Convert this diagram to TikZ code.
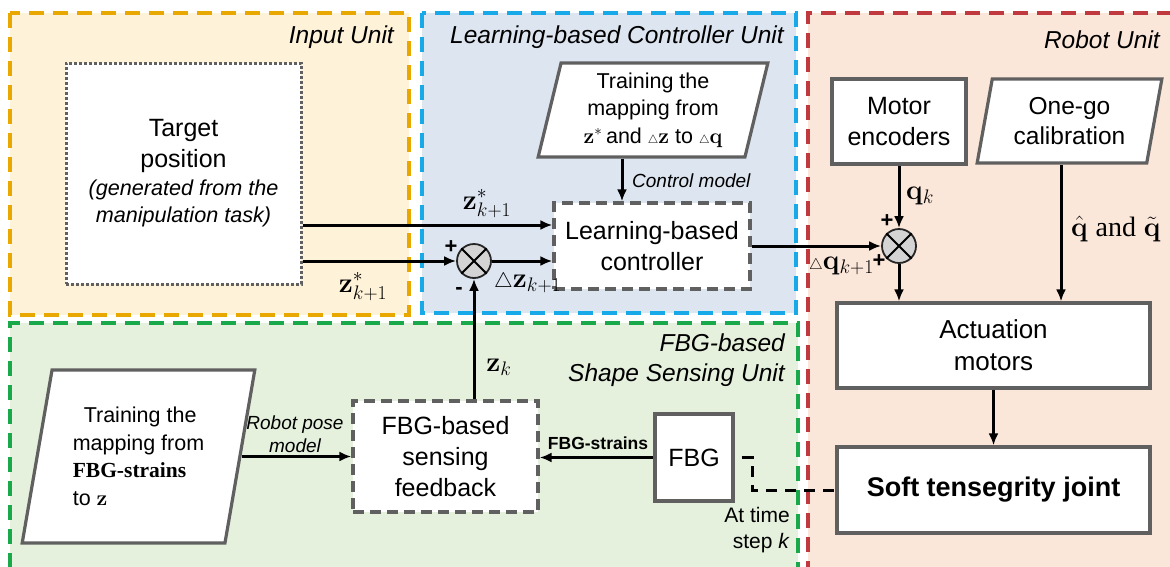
\RequirePackage{fix-cm}
\documentclass[tikz,border=0pt]{standalone}
\usepackage{amsmath,amssymb}
\usepackage[no-math]{fontspec}
\setmainfont{Liberation Sans}
\newfontfamily\timesf{Liberation Serif}
\usetikzlibrary{arrows.meta,shapes.geometric}

\definecolor{inEdge}{HTML}{E9A800}
\definecolor{inFill}{HTML}{FEF2D9}
\definecolor{lcEdge}{HTML}{17A9E8}
\definecolor{lcFill}{HTML}{DDE5F1}
\definecolor{rbEdge}{HTML}{C0393F}
\definecolor{rbFill}{HTML}{FBE6DA}
\definecolor{fgEdge}{HTML}{19A84A}
\definecolor{fgFill}{HTML}{E5F0DD}
\definecolor{boxgray}{HTML}{606060}
\definecolor{sumgray}{HTML}{D4D4D4}

% small increment triangle
\newcommand{\smtri}[1][0.55]{\mathord{\scalebox{#1}{$\triangle$}}}

\tikzset{
  unitedge/.style={line width=3.2pt, dash pattern=on 15pt off 9pt},
  blk/.style={draw=boxgray, line width=3.2pt, fill=white, align=center,
    font=\fontsize{25}{31}\selectfont, inner sep=0pt},
  dblk/.style={blk, dash pattern=on 11pt off 6pt},
  para/.style={blk, trapezium, trapezium left angle=77, trapezium right angle=103,
    trapezium stretches=true, font=\fontsize{21.5}{27.5}\selectfont},
  sumnode/.style={circle, draw=black!85, fill=sumgray, line width=1.8pt,
    minimum size=34pt, inner sep=0pt},
  arr/.style={-{Latex[length=12pt,width=10pt]}, line width=3pt},
  lbl/.style={font=\fontsize{19}{23}\selectfont\itshape, align=center, inner sep=0pt},
  unittitle/.style={font=\fontsize{24.5}{30}\selectfont\itshape, align=right, inner sep=0pt},
  mathlbl/.style={font=\fontsize{28}{32}\selectfont, inner sep=0pt},
  sign/.style={font=\fontsize{22}{24}\selectfont\bfseries, inner sep=0pt},
}

\begin{document}
\begin{tikzpicture}[x=1pt, y=-1pt]
\useasboundingbox (0,0) rectangle (1170,566);
\fill[white] (0,0) rectangle (1170,566);

% ---- unit backgrounds ----
\fill[inFill] (10,13) rectangle (409,315);
\draw[inEdge, unitedge] (10,13) rectangle (409,315);

\fill[lcFill] (422,13) rectangle (796,313);
\draw[lcEdge, unitedge] (422,13) rectangle (796,313);

\fill[rbFill] (808,13) rectangle (1172,568);
\draw[rbEdge, unitedge] (1172,13) -- (808,13) -- (808,568);

\fill[fgFill] (10,323) rectangle (798,568);
\draw[fgEdge, unitedge] (10,568) -- (10,323) -- (798,323) -- (798,568);

% ---- unit titles ----
\node[unittitle, anchor=east] (tIn) at (394,37) {Input Unit};
\node[unittitle, anchor=east] (tLc) at (784,37) {Learning-based Controller Unit};
\node[unittitle, anchor=east] (tRb) at (1160,40) {Robot Unit};
\node[unittitle, anchor=east] (tFg) at (785,360) {FBG-based\\Shape Sensing Unit};

% ---- blocks ----
\node[blk, draw=boxgray, line width=3pt, dash pattern=on 2.6pt off 2.4pt,
      minimum width=235pt, minimum height=221pt] (target) at (183.5,173.5)
  {Target\\position\\[-3pt]{\fontsize{21.6}{26}\selectfont\itshape (generated from the}\\[-4pt]
   {\fontsize{21.6}{26}\selectfont\itshape manipulation task)}};

\node[para, minimum width=230pt, minimum height=94pt] (cpara) at (653,110)
  {Training the\\mapping from\\$\mathbf{z}^{*}$\,and $\smtri\mathbf{z}$ to $\smtri\mathbf{q}$};

\node[dblk, minimum width=196pt, minimum height=86pt] (ctrl) at (652,246)
  {Learning-based\\controller};

\node[sumnode] (s1) at (474,261) {};
\draw[line width=1.8pt] (s1.45) -- (s1.225) (s1.135) -- (s1.315);

\node[blk, minimum width=134pt, minimum height=85pt] (motor) at (899,121.5)
  {Motor\\encoders};

\node[para, font=\fontsize{24.5}{30}\selectfont, minimum width=185pt, minimum height=84pt]
  (calib) at (1069.5,121) {One-go\\calibration};

\node[sumnode] (s2) at (899,246) {};
\draw[line width=1.8pt] (s2.45) -- (s2.225) (s2.135) -- (s2.315);

\node[blk, font=\fontsize{26}{32}\selectfont, minimum width=313pt, minimum height=85pt]
  (act) at (993.5,345.5) {Actuation\\motors};

\node[blk, font=\fontsize{27}{32}\selectfont\bfseries, minimum width=313pt, minimum height=86pt]
  (soft) at (993.5,490) {Soft tensegrity joint};

\node[blk, minimum width=78pt, minimum height=87pt] (fbg) at (694,457.5) {FBG};

\node[dblk, minimum width=185pt, minimum height=111pt] (sense) at (445.5,456.5)
  {FBG-based\\sensing\\feedback};

\node[para, align=left, minimum width=233pt, minimum height=173pt] (ftrain) at (138.5,456.5)
  {\hspace{11pt}Training the\\mapping from\\{\timesf\bfseries FBG-strains}\\to $\mathbf{z}$};

% ---- helper coordinates ----
\coordinate (yTop) at (0,225);
\coordinate (xCm) at (622,0);
\coordinate (xCal) at (1061,0);
\coordinate (dk) at (752,490);

% ---- connectors ----
\draw[arr] (target.east |- yTop) -- (ctrl.west |- yTop);
\draw[arr] (target.east |- s1) -- (s1.west);
\draw[arr] (s1.east) -- (ctrl.west |- s1);
\draw[arr] (sense.north -| s1) -- (s1.south);
\draw[arr] (cpara.south -| xCm) -- (ctrl.north -| xCm);
\draw[arr] (ctrl.east) -- (s2.west);
\draw[arr] (motor.south) -- (s2.north);
\draw[arr] (s2.south) -- (act.north -| s2);
\draw[arr] (calib.south -| xCal) -- (act.north -| xCal);
\draw[arr] (act.south) -- (soft.north);
\draw[arr] (fbg.west) -- (sense.east |- fbg.west);
\draw[arr] (ftrain.east) -- (sense.west |- ftrain.east);
\draw[line width=3pt, dash pattern=on 11pt off 8pt, shorten <=7pt]
  (fbg.east) -| (dk) -- (soft.west);

% ---- connector labels ----
\node[mathlbl] (lzTop) at (487,204) {$\mathbf{z}^{*}_{k+1}$};
\node[mathlbl] (lzIn) at (363,287) {$\mathbf{z}^{*}_{k+1}$};
\node[mathlbl, anchor=west] (ldz) at (494,283) {$\smtri[0.75]\mathbf{z}_{k+1}$};
\node[mathlbl] (lzk) at (499,367) {$\mathbf{z}_{k}$};
\node[mathlbl, anchor=west] (ldq) at (809,266) {$\smtri\mathbf{q}_{k+1}$};
\node[mathlbl] (lqk) at (920,196) {$\mathbf{q}_{k}$};
\node[mathlbl, anchor=west] (lqc) at (1071,229) {$\hat{\mathbf{q}}$\;{\timesf and}\;$\tilde{\mathbf{q}}$};

\node[sign] (p1) at (451,247) {+};
\node[sign] (m1) at (459,291) {-};
\node[sign] (p2) at (887,221) {+};
\node[sign] (p3) at (879,261) {+};

\node[lbl, anchor=west] (lcm) at (632,181) {Control model};
\node[lbl] (lrp) at (295,434) {Robot pose\\model};
\node[font=\fontsize{17.5}{20}\selectfont\bfseries, inner sep=0pt] (lfs) at (598,443) {FBG-strains};
\node[font=\fontsize{21}{26}\selectfont, align=right, anchor=east, inner sep=0pt] (lat)
  at (790,530) {At time\\step \textit{k}};
\end{tikzpicture}
\end{document}
